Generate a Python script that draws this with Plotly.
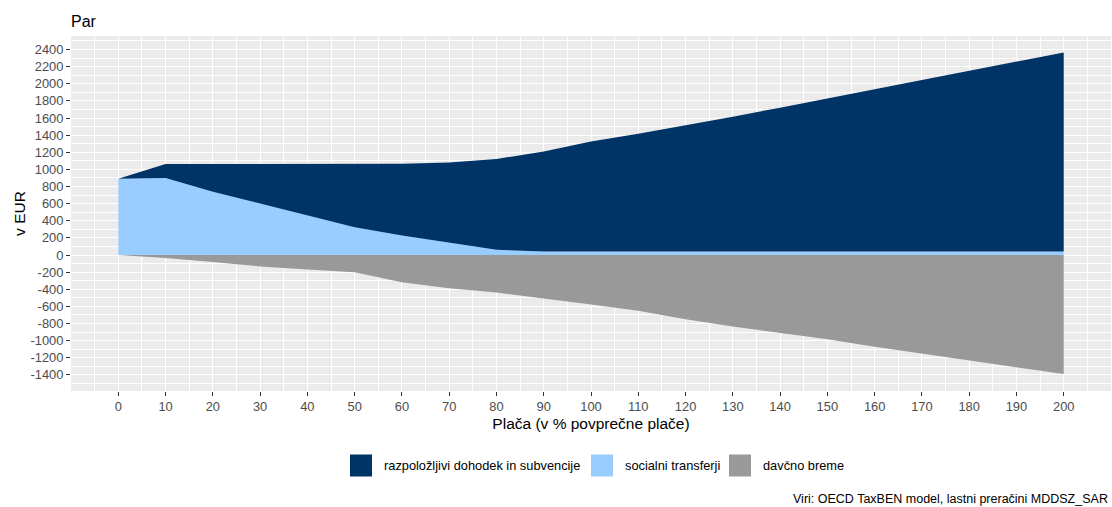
import plotly.graph_objects as go

# ---- data ----
placa = [0, 10, 20, 30, 40, 50, 60, 70, 80, 90, 100, 110, 120, 130, 140, 150, 160, 170, 180, 190, 200]
razpolozljivi_dohodek = [0, 162, 322, 462, 602, 737, 837, 934, 1060, 1166, 1283, 1375, 1472, 1574, 1679,
                         1784, 1893, 2003, 2108, 2213, 2323]
socialni_transferji = [890, 900, 740, 600, 460, 325, 228, 148, 62, 42, 42, 42, 42, 42, 42, 42, 42, 42, 42, 42, 42]
davcno_breme = [0, -35, -82, -133, -168, -200, -317, -387, -437, -504, -578, -652, -750, -836, -906,
                -984, -1070, -1148, -1226, -1304, -1390]

x_ticks = list(range(0, 201, 10))
x_minor = list(range(-5, 206, 10))
y_ticks = list(range(-1400, 2401, 200))
y_minor = list(range(-1500, 2501, 200))

series_names = ["razpoložljivi dohodek in subvencije", "socialni transferji", "davčno breme"]
colors = ["#003366", "#99CCFF", "#999999"]

FONT = "Liberation Sans, Arial, sans-serif"

fig = go.Figure()
fig.add_trace(go.Scatter(x=placa, y=socialni_transferji, name=series_names[1], mode="lines",
                         stackgroup="pos", line=dict(width=0), fillcolor=colors[1], showlegend=False))
fig.add_trace(go.Scatter(x=placa, y=razpolozljivi_dohodek, name=series_names[0], mode="lines",
                         stackgroup="pos", line=dict(width=0), fillcolor=colors[0], showlegend=False))
fig.add_trace(go.Scatter(x=placa, y=davcno_breme, name=series_names[2], mode="lines",
                         fill="tozeroy", line=dict(width=0, color=colors[2]), fillcolor=colors[2],
                         showlegend=False))

# panel geometry in pixels
W, H = 1112, 507
L, R, T, B = 71, 1, 36, 116
PW = W - L - R
PH = H - T - B


def px_x(p):
    return (p - L) / PW


def px_y(p):
    return (H - B - p) / PH


shapes = []
annotations = []
legend_items = [(350, 381.5, 0), (591, 622.5, 1), (729, 760.5, 2)]
for kx, tx, i in legend_items:
    shapes.append(dict(type="rect", xref="paper", yref="paper",
                       x0=px_x(kx), x1=px_x(kx + 22), y0=px_y(476.5), y1=px_y(454.5),
                       fillcolor=colors[i], line=dict(width=0), layer="above"))
    annotations.append(dict(xref="paper", yref="paper", x=px_x(tx), y=px_y(465.5),
                            xanchor="left", yanchor="middle", showarrow=False,
                            text=series_names[i], font=dict(family=FONT, size=12.8, color="#000000")))

annotations.append(dict(xref="paper", yref="paper", x=px_x(1110), y=px_y(499),
                        xanchor="right", yanchor="middle", showarrow=False,
                        text="Viri: OECD TaxBEN model, lastni preračini MDDSZ_SAR",
                        font=dict(family=FONT, size=12.5, color="#000000")))

# plot title "Par"
annotations.append(dict(xref="paper", yref="paper", x=px_x(69), y=px_y(21),
                        xanchor="left", yanchor="middle", showarrow=False,
                        text="Par", font=dict(family=FONT, size=16, color="#000000")))

axis_common = dict(
    ticks="outside", ticklen=4, tickwidth=1, tickcolor="#333333",
    tickfont=dict(family=FONT, size=12.9, color="#4D4D4D"),
    showgrid=True, gridcolor="#FFFFFF", gridwidth=1.1,
    zeroline=False, showline=False,
)

fig.update_layout(
    width=W, height=H,
    margin=dict(l=L, r=R, t=T, b=B),
    paper_bgcolor="#FFFFFF",
    plot_bgcolor="#EBEBEB",
    font=dict(family=FONT, color="#000000"),
    showlegend=False,
    xaxis=dict(range=[-10, 210], tickmode="array", tickvals=x_ticks,
               ticktext=[str(v) for v in x_ticks],
               minor=dict(tickvals=x_minor, showgrid=True, gridcolor="#FFFFFF", gridwidth=0.55, ticks=""),
               title=dict(text="Plača (v % povprečne plače)", standoff=4,
                          font=dict(family=FONT, size=15.5, color="#000000")),
               **axis_common),
    yaxis=dict(range=[-1588, 2558], tickmode="array", tickvals=y_ticks,
               ticktext=[str(v) for v in y_ticks],
               minor=dict(tickvals=y_minor, showgrid=True, gridcolor="#FFFFFF", gridwidth=0.55, ticks=""),
               title=dict(text="v EUR", standoff=1,
                          font=dict(family=FONT, size=15.5, color="#000000")),
               **axis_common),
    shapes=shapes,
    annotations=annotations,
)

fig.write_html("out.html",
               config={"displayModeBar": False},
               post_script="document.body.style.margin='0';document.body.style.padding='0';"
                           "document.body.style.overflow='hidden';")
